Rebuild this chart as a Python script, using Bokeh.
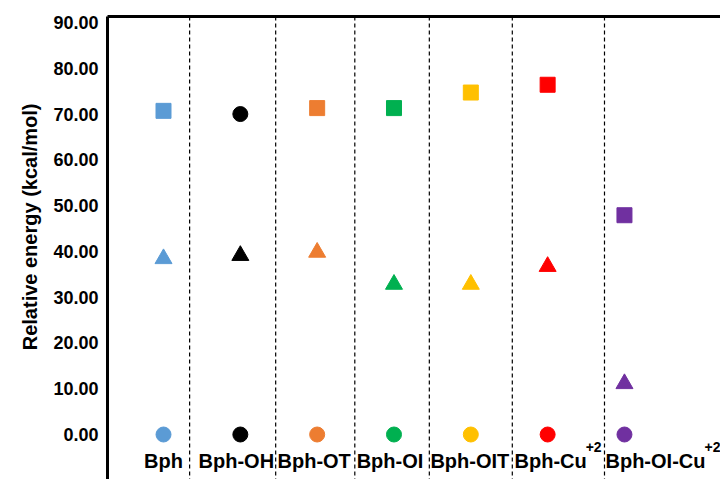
from bokeh.plotting import figure
from bokeh.models import (ColumnDataSource, Range1d, Span, FixedTicker,
                          NumeralTickFormatter, LinearAxis, Title)
from bokeh.core.properties import value
from bokeh.embed import file_html
from bokeh.resources import INLINE

# ---- data ----
categories = ["Bph", "Bph-OH", "Bph-OT", "Bph-OI", "Bph-OIT", "Bph-Cu", "Bph-OI-Cu"]
superscripts = ["", "", "", "", "", "+2", "+2"]
high_values = [70.7, 70.0, 71.3, 71.3, 74.7, 76.4, 47.9]
mid_values = [38.4, 39.1, 39.8, 32.8, 32.8, 36.7, 11.1]
ground_values = [0.0, 0.0, 0.0, 0.0, 0.0, 0.0, 0.0]
high_markers = ["square", "circle", "square", "square", "square", "square", "square"]
colors = ["#5B9BD5", "#000000", "#ED7D31", "#00B050", "#FFC000", "#FF0000", "#7030A0"]
y_ticks = [0, 10, 20, 30, 40, 50, 60, 70, 80, 90]
separators = [0.34, 1.46, 2.49, 3.46, 4.54, 5.74]
y_title = "Relative energy (kcal/mol)"

# ---- layout/style helpers ----
label_x_offsets = [0, -4, -3, -4, -1, 3, 31]
FONT = "Liberation Sans"

xs = list(range(len(categories)))

p = figure(width=720, height=479,
           x_range=Range1d(-0.729, 7.25), y_range=Range1d(-9.83, 91.31),
           output_backend="svg", toolbar_location=None, x_axis_location=None,
           min_border_left=107, min_border_top=16, min_border_right=0,
           min_border_bottom=0)
p.outline_line_color = None
p.xgrid.visible = False
p.ygrid.visible = False
p.background_fill_color = "white"

# y axis
ya = p.yaxis[0]
ya.ticker = FixedTicker(ticks=y_ticks)
ya.formatter = NumeralTickFormatter(format="0.00")
ya.axis_line_width = 3
ya.axis_line_color = "black"
ya.major_tick_line_color = None
ya.minor_tick_line_color = None
ya.major_tick_out = 0
ya.minor_tick_out = 0
ya.major_label_standoff = 9
ya.major_label_text_font = FONT
ya.major_label_text_font_style = "bold"
ya.major_label_text_font_size = "18px"
ya.major_label_text_color = "black"

# y title as a side title (rotated), anchored from the top
p.add_layout(Title(text=y_title, align="right", offset=87, standoff=20,
                   text_font=FONT, text_font_style="bold",
                   text_font_size="20px", text_color="black"), "left")

# top border as an axis line
top = LinearAxis(ticker=FixedTicker(ticks=[]), major_label_text_font_size="0px",
                 major_tick_out=0, minor_tick_out=0, major_tick_line_color=None,
                 minor_tick_line_color=None, axis_line_width=3,
                 axis_line_color="black")
p.add_layout(top, "above")

# dashed separators
for s in separators:
    p.add_layout(Span(location=s, dimension="height", line_color="black",
                      line_width=1.2, line_dash="4 3"))

# markers
src_high = ColumnDataSource(dict(x=xs, y=high_values, m=high_markers, c=colors))
src_mid = ColumnDataSource(dict(x=xs, y=mid_values, c=colors))
src_gnd = ColumnDataSource(dict(x=xs, y=ground_values, c=colors))
p.scatter("x", "y", source=src_high, marker="m", size=15, color="c")
p.scatter("x", "y", source=src_mid, marker="triangle", size=17, color="c")
p.scatter("x", "y", source=src_gnd, marker="circle", size=15, color="c")

# category labels inside the plot
src_lab = ColumnDataSource(dict(x=xs, y=ground_values, t=categories,
                                dx=label_x_offsets))
p.text("x", "y", text="t", source=src_lab, x_offset="dx", y_offset=26,
       text_align="center", text_baseline="middle", text_font=value(FONT),
       text_font_style="bold", text_font_size="20px", text_color="black")

# superscripts
sup_x, sup_y, sup_t, sup_dx = [], [], [], []
main_half_widths = {"Bph-Cu": 35, "Bph-OI-Cu": 49}
for i, (c, s) in enumerate(zip(categories, superscripts)):
    if s:
        sup_x.append(i)
        sup_y.append(ground_values[i])
        sup_t.append(s)
        sup_dx.append(label_x_offsets[i] + main_half_widths[c])
src_sup = ColumnDataSource(dict(x=sup_x, y=sup_y, t=sup_t, dx=sup_dx))
p.text("x", "y", text="t", source=src_sup, x_offset="dx", y_offset=12,
       text_align="left", text_baseline="middle", text_font=value(FONT),
       text_font_style="bold", text_font_size="14px", text_color="black")

open("out.html", "w").write(file_html(p, INLINE))
